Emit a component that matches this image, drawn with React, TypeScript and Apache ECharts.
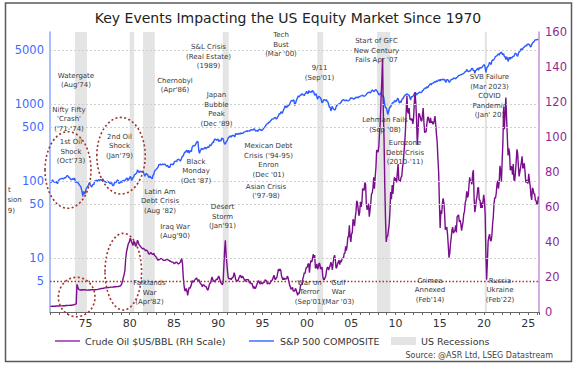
import React, { useEffect, useRef } from 'react';
import * as echarts from 'echarts';

const FONT = "'DejaVu Sans', Verdana, sans-serif";

// ---- data: monthly values starting January 1971 ----
const startYear = 1971;

const sp1970s = [
  95.9, 96.8, 100.3, 103.9, 99.6, 98.7, 95.6, 99.0, 98.3, 94.2, 94.0, 102.1,
  103.9, 106.6, 107.2, 107.7, 109.5, 107.1, 107.4, 111.1, 110.6, 111.6, 116.7, 118.1,
  116.0, 111.7, 111.5, 107.0, 105.0, 104.3, 108.2, 104.3, 108.4, 108.3, 96.0, 97.6,
  96.6, 96.2, 94.0, 90.3, 87.3, 86.0, 79.3, 72.2, 63.5, 73.9, 70.0, 68.6,
  77.0, 81.6, 83.4, 87.3, 91.2, 95.2, 88.8, 86.9, 83.9, 89.0, 91.2, 90.2,
  100.9, 99.7, 102.8, 101.6, 100.2, 104.3, 103.4, 102.9, 105.2, 102.9, 102.1, 107.5,
  102.0, 99.8, 98.4, 98.4, 96.1, 100.5, 98.9, 96.8, 96.5, 92.3, 94.8, 95.1,
  89.3, 87.0, 89.2, 96.8, 97.2, 95.5, 100.7, 103.3, 102.5, 93.2, 94.7, 96.1,
  99.9, 96.3, 101.6, 101.8, 99.1, 102.9, 103.8, 109.3, 109.3, 101.8, 106.2, 107.9,
];
const sp1980s = [
  114.2, 113.7, 102.1, 106.3, 111.2, 114.2, 121.7, 122.4, 125.5, 127.5, 140.5, 135.8,
  129.6, 131.3, 136.0, 132.8, 132.6, 131.2, 130.9, 122.8, 116.2, 121.9, 126.4, 122.6,
  120.4, 113.1, 112.0, 116.4, 111.9, 109.6, 107.1, 119.5, 120.4, 133.7, 138.5, 140.6,
  145.3, 148.1, 153.0, 164.4, 162.4, 168.1, 162.6, 164.4, 166.1, 163.6, 166.4, 164.9,
  163.4, 157.1, 159.2, 160.1, 150.6, 153.2, 150.7, 166.7, 166.1, 166.1, 163.6, 167.2,
  179.6, 181.2, 180.7, 179.8, 189.6, 191.9, 190.9, 188.6, 182.1, 189.8, 202.2, 211.3,
  211.8, 226.9, 238.9, 235.5, 247.4, 250.8, 236.1, 252.9, 231.3, 244.0, 249.2, 242.2,
  274.1, 284.2, 291.7, 288.4, 290.1, 304.0, 318.7, 329.8, 321.8, 251.8, 230.3, 247.1,
  257.1, 267.8, 258.9, 261.3, 262.2, 273.5, 272.0, 261.5, 271.9, 279.0, 273.7, 277.7,
  297.5, 288.9, 294.9, 309.6, 320.5, 318.0, 346.1, 351.5, 349.2, 340.4, 346.0, 353.4,
];
const sp1990s = [
  329.1, 331.9, 339.9, 330.8, 361.2, 358.0, 356.2, 322.6, 306.1, 304.0, 322.2, 330.2,
  343.9, 367.1, 375.2, 375.3, 389.8, 371.2, 387.8, 395.4, 387.9, 392.5, 375.2, 417.1,
  408.8, 412.7, 403.7, 415.0, 415.4, 408.1, 424.2, 414.0, 417.8, 418.7, 431.4, 435.7,
  438.8, 443.4, 451.7, 440.2, 450.2, 450.5, 448.1, 463.6, 458.9, 467.8, 461.8, 466.5,
  481.6, 467.1, 445.8, 450.9, 456.5, 444.3, 458.3, 475.5, 462.7, 472.4, 453.7, 459.3,
  470.4, 487.4, 500.7, 514.7, 533.4, 544.8, 562.1, 561.9, 584.4, 581.5, 605.4, 615.9,
  636.0, 640.4, 645.5, 654.2, 669.1, 670.6, 640.0, 652.0, 687.3, 705.3, 757.0, 740.7,
  786.2, 790.8, 757.1, 801.3, 848.3, 885.1, 954.3, 899.5, 947.3, 914.6, 955.4, 970.4,
  980.3, 1049.3, 1101.8, 1111.8, 1090.8, 1133.8, 1120.7, 957.3, 1017.0, 1098.7, 1163.6, 1229.2,
  1279.6, 1238.3, 1286.4, 1335.2, 1301.8, 1372.7, 1328.7, 1320.4, 1282.7, 1362.9, 1388.9, 1469.3,
];
const sp2000s = [
  1394.5, 1366.4, 1498.6, 1452.4, 1420.6, 1454.6, 1430.8, 1517.7, 1436.5, 1429.4, 1315.0, 1320.3,
  1366.0, 1239.9, 1160.3, 1249.5, 1255.8, 1224.4, 1211.2, 1133.6, 1040.9, 1059.8, 1139.5, 1148.1,
  1130.2, 1106.7, 1147.4, 1076.9, 1067.1, 989.8, 911.6, 916.1, 815.3, 885.8, 936.3, 879.8,
  855.7, 841.2, 848.2, 916.9, 963.6, 974.5, 990.3, 1008.0, 996.0, 1050.7, 1058.2, 1111.9,
  1131.1, 1144.9, 1126.2, 1107.3, 1120.7, 1140.8, 1101.7, 1104.2, 1114.6, 1130.2, 1173.8, 1211.9,
  1181.3, 1203.6, 1180.6, 1156.9, 1191.5, 1191.3, 1234.2, 1220.3, 1228.8, 1207.0, 1249.5, 1248.3,
  1280.1, 1280.7, 1294.9, 1310.6, 1270.1, 1270.2, 1276.7, 1303.8, 1335.9, 1377.9, 1400.6, 1418.3,
  1438.2, 1406.8, 1420.9, 1482.4, 1530.6, 1503.4, 1455.3, 1474.0, 1526.8, 1549.4, 1481.1, 1468.4,
  1378.6, 1330.6, 1322.7, 1385.6, 1400.4, 1280.0, 1267.4, 1282.8, 1166.4, 968.8, 896.2, 903.3,
  825.9, 735.1, 797.9, 872.8, 919.1, 919.3, 987.5, 1020.6, 1057.1, 1036.2, 1095.6, 1115.1,
];
const sp2010s = [
  1073.9, 1104.5, 1169.4, 1186.7, 1089.4, 1030.7, 1101.6, 1049.3, 1141.2, 1183.3, 1180.6, 1257.6,
  1286.1, 1327.2, 1325.8, 1363.6, 1345.2, 1320.6, 1292.3, 1218.9, 1131.4, 1253.3, 1247.0, 1257.6,
  1312.4, 1365.7, 1408.5, 1397.9, 1310.3, 1362.2, 1379.3, 1406.6, 1440.7, 1412.2, 1416.2, 1426.2,
  1498.1, 1514.7, 1569.2, 1597.6, 1630.7, 1606.3, 1685.7, 1633.0, 1681.6, 1756.5, 1805.8, 1848.4,
  1782.6, 1859.5, 1872.3, 1884.0, 1923.6, 1960.2, 1930.7, 2003.4, 1972.3, 2018.1, 2067.6, 2058.9,
  1995.0, 2104.5, 2067.9, 2085.5, 2107.4, 2063.1, 2103.8, 1972.2, 1920.0, 2079.4, 2080.4, 2043.9,
  1940.2, 1932.2, 2059.7, 2065.3, 2097.0, 2098.9, 2173.6, 2171.0, 2168.3, 2126.2, 2198.8, 2238.8,
  2278.9, 2363.6, 2362.7, 2384.2, 2411.8, 2423.4, 2470.3, 2471.7, 2519.4, 2575.3, 2647.6, 2673.6,
  2823.8, 2713.8, 2640.9, 2648.1, 2705.3, 2718.4, 2816.3, 2901.5, 2914.0, 2711.7, 2760.2, 2506.9,
  2704.1, 2784.5, 2834.4, 2945.8, 2752.1, 2941.8, 2980.4, 2926.5, 2976.7, 3037.6, 3141.0, 3230.8,
];
const sp2020s = [
  3225.5, 2954.2, 2584.6, 2912.4, 3044.3, 3100.3, 3271.1, 3500.3, 3363.0, 3270.0, 3621.6, 3756.1,
  3714.2, 3811.2, 3972.9, 4181.2, 4204.1, 4297.5, 4395.3, 4522.7, 4307.5, 4605.4, 4567.0, 4766.2,
  4515.6, 4373.9, 4530.4, 4131.9, 4132.2, 3785.4, 4130.3, 3955.0, 3585.6, 3872.0, 4080.1, 3839.5,
  4076.6, 3970.2, 4109.3, 4169.5, 4179.8, 4450.4, 4589.0, 4507.7, 4288.1, 4193.8, 4567.8, 4769.8,
  4845.7, 5096.3, 5254.4, 5035.7, 5277.5, 5460.5, 5522.3, 5648.4, 5762.5, 5705.5, 6032.4, 5881.6,
  6040.5, 5954.5, 5611.9, 5569.1, 5911.7, 6205.0, 6339.4, 6460.3, 6688.5, 6840.2, 6849.1, 6845.5,
  6939.0, 6880.0,
];

const oil1970s = [
  3.2, 3.2, 3.3, 3.3, 3.3, 3.3, 3.3, 3.3, 3.4, 3.4, 3.4, 3.4,
  3.4, 3.5, 3.5, 3.5, 3.5, 3.6, 3.6, 3.6, 3.6, 3.7, 3.7, 3.7,
  3.8, 3.8, 3.8, 3.9, 3.9, 3.9, 4.0, 4.0, 4.1, 4.3, 4.5, 4.6,
  15.8, 14.5, 13.2, 12.8, 12.6, 12.6, 12.7, 12.6, 12.6, 12.7, 12.8, 12.7,
  12.6, 12.5, 12.5, 12.6, 12.6, 12.6, 12.6, 12.7, 12.7, 12.7, 12.7, 12.7,
  12.7, 12.7, 12.8, 12.8, 12.9, 13.0, 13.1, 13.2, 13.3, 13.4, 13.4, 13.5,
  13.6, 13.7, 13.8, 13.8, 13.9, 13.9, 14.0, 14.0, 14.1, 14.1, 14.2, 14.2,
  14.2, 14.3, 14.3, 14.4, 14.4, 14.4, 14.5, 14.5, 14.6, 14.7, 14.8, 15.0,
  15.5, 16.5, 18.0, 20.0, 21.5, 24.0, 30.0, 34.0, 36.0, 38.0, 39.5, 40.0,
];
const oil1980s = [
  42.0, 41.5, 40.0, 39.0, 38.0, 40.5, 39.5, 38.0, 37.5, 39.0, 41.0, 40.0,
  38.5, 38.0, 37.5, 37.0, 36.5, 36.0, 36.5, 36.0, 35.5, 35.0, 35.5, 35.0,
  34.5, 33.5, 33.0, 33.5, 34.0, 33.5, 33.0, 33.0, 33.5, 32.5, 32.0, 31.5,
  31.0, 30.0, 29.5, 30.0, 30.0, 30.5, 30.5, 30.5, 30.0, 29.5, 29.5, 29.5,
  29.5, 30.0, 30.5, 30.0, 29.5, 29.5, 29.0, 29.0, 28.5, 28.5, 28.5, 28.0,
  27.5, 28.0, 28.5, 28.5, 28.0, 27.5, 27.5, 28.0, 28.5, 29.5, 30.5, 27.5,
  20.0, 15.5, 12.5, 12.0, 13.5, 12.0, 9.5, 12.0, 14.0, 13.5, 14.5, 15.5,
  18.0, 17.0, 17.5, 18.0, 18.5, 19.0, 19.5, 18.5, 18.0, 18.5, 17.5, 16.5,
  16.0, 15.5, 14.5, 15.5, 15.5, 15.0, 14.5, 14.5, 13.5, 12.5, 13.0, 15.0,
  16.5, 16.5, 18.5, 20.0, 18.5, 17.5, 18.0, 17.0, 18.0, 19.0, 18.5, 19.5,
];
const oil1990s = [
  20.5, 19.5, 18.0, 16.5, 16.5, 15.5, 17.0, 26.0, 35.0, 41.0, 33.0, 28.0,
  23.0, 19.5, 19.0, 19.0, 19.0, 18.5, 19.5, 19.5, 20.5, 22.5, 21.0, 18.5,
  18.0, 18.0, 17.5, 19.0, 20.0, 21.0, 20.5, 19.5, 20.5, 20.0, 19.0, 18.5,
  17.5, 18.5, 18.5, 18.5, 18.5, 17.5, 16.5, 17.0, 16.0, 16.5, 15.0, 13.5,
  14.5, 13.5, 13.5, 15.0, 16.0, 17.0, 18.0, 17.0, 16.0, 16.5, 17.0, 16.0,
  16.5, 17.0, 17.0, 18.5, 18.0, 17.5, 16.0, 16.5, 16.5, 16.0, 17.0, 18.0,
  18.0, 18.5, 20.0, 21.0, 19.0, 18.5, 19.5, 20.0, 22.5, 24.5, 23.5, 24.5,
  24.0, 21.0, 19.5, 18.5, 19.5, 18.5, 19.0, 19.0, 19.0, 20.5, 19.5, 17.5,
  15.5, 14.5, 13.0, 13.5, 14.0, 12.0, 12.0, 12.0, 13.5, 12.5, 11.0, 9.5,
  11.0, 10.5, 12.5, 15.5, 15.5, 16.0, 19.0, 20.5, 22.5, 22.0, 24.5, 25.5,
];
const oil2000s = [
  25.5, 27.5, 27.5, 22.5, 27.5, 29.5, 28.5, 30.0, 33.0, 31.0, 32.5, 25.0,
  25.5, 27.5, 24.5, 25.5, 28.0, 27.5, 24.5, 25.5, 25.5, 20.5, 18.5, 18.5,
  19.5, 20.5, 23.5, 25.5, 25.5, 24.0, 25.5, 26.5, 28.5, 27.0, 24.0, 28.0,
  31.0, 32.5, 30.0, 25.0, 25.5, 27.5, 28.5, 29.5, 27.0, 29.5, 28.5, 30.0,
  31.0, 30.5, 33.5, 33.5, 37.5, 35.0, 38.0, 43.0, 43.0, 49.5, 43.0, 40.0,
  44.5, 45.5, 53.0, 52.0, 49.0, 54.0, 57.5, 63.5, 62.5, 58.5, 55.0, 57.0,
  63.0, 60.0, 62.5, 70.5, 70.0, 69.5, 74.0, 73.0, 62.0, 58.5, 59.0, 62.0,
  54.5, 58.0, 62.0, 67.5, 68.0, 71.0, 77.0, 70.5, 77.0, 82.5, 92.5, 91.5,
  91.5, 95.0, 103.5, 109.0, 122.5, 132.5, 145.0, 114.0, 99.0, 72.0, 53.0, 40.0,
  43.0, 43.5, 47.0, 50.5, 57.5, 68.5, 64.5, 72.5, 67.5, 73.0, 77.0, 75.0,
];
const oil2010s = [
  76.5, 74.0, 79.5, 84.5, 75.5, 75.0, 74.5, 77.0, 77.5, 82.5, 85.5, 91.5,
  96.5, 104.0, 114.5, 123.5, 114.5, 113.5, 116.5, 110.0, 110.5, 109.5, 110.5, 107.5,
  110.5, 119.5, 125.5, 119.5, 110.5, 95.5, 102.5, 113.5, 113.0, 111.5, 109.5, 109.0,
  112.5, 116.5, 108.5, 102.5, 103.0, 103.0, 107.5, 111.0, 111.5, 109.0, 108.0, 111.0,
  108.0, 109.0, 107.5, 107.5, 109.5, 112.0, 107.0, 101.5, 97.0, 87.5, 79.5, 62.0,
  48.0, 58.0, 56.0, 61.5, 65.0, 62.5, 56.5, 47.0, 48.0, 48.5, 44.5, 38.0,
  31.0, 33.5, 39.0, 42.5, 47.0, 48.5, 45.0, 46.0, 46.5, 49.5, 45.5, 54.5,
  55.0, 55.5, 51.5, 52.5, 50.5, 46.5, 49.0, 51.5, 56.0, 57.5, 62.5, 64.0,
  69.0, 65.5, 66.5, 72.0, 77.0, 74.5, 74.5, 73.0, 79.0, 81.0, 65.0, 57.0,
  60.0, 64.0, 66.0, 71.0, 71.0, 64.0, 64.0, 59.5, 62.5, 59.5, 63.0, 67.0,
];
const oil2020s = [
  63.5, 55.5, 32.0, 18.5, 29.0, 40.5, 43.0, 44.5, 41.0, 40.5, 43.5, 50.0,
  54.5, 62.0, 65.5, 65.0, 68.0, 73.0, 75.0, 70.5, 74.5, 83.5, 80.5, 74.5,
  86.5, 97.0, 117.0, 104.5, 113.0, 122.5, 111.0, 100.0, 89.5, 93.5, 91.0, 81.0,
  83.0, 83.0, 78.5, 84.5, 75.5, 75.0, 80.0, 86.0, 93.0, 90.5, 83.0, 77.5,
  80.0, 83.0, 85.5, 89.0, 82.0, 83.0, 85.0, 80.0, 74.0, 75.5, 74.0, 73.5,
  79.0, 75.0, 72.0, 66.5, 64.0, 71.0, 70.0, 67.5, 67.5, 64.0, 63.5, 61.5,
  62.0, 66.0,
];

const recessionStarts = [1973.83, 1980.0, 1981.5, 1990.5, 2001.17, 2007.92, 2020.08];
const recessionEnds = [1975.17, 1980.5, 1982.83, 1991.17, 2001.83, 2009.42, 2020.33];

const leftTickValues = [5, 10, 50, 100, 500, 1000, 5000];
const leftGridValues = [10, 50, 100, 500, 1000, 5000];
const redLineValue = 5;

const seriesNames = ['Crude Oil $US/BBL (RH Scale)', 'S&P 500 COMPOSITE', 'US Recessions'];

// ---- annotation texts and their layout (pixels) ----
const annotations = [
  { lines: ['Watergate', "(Aug'74)"], x: 76, y: 71 },
  { lines: ['Nifty Fifty', "'Crash'", "('71-'74)"], x: 69, y: 105 },
  { lines: ['1st Oil', 'Shock', "(Oct'73)"], x: 71, y: 137.5 },
  { lines: ['2nd Oil', 'Shock', "(Jan'79)"], x: 119.5, y: 132 },
  { lines: ['Chernobyl', "(Apr'86)"], x: 175, y: 76 },
  { lines: ['S&L Crisis', '(Real Estate)', '(1989)'], x: 208.5, y: 42.5 },
  { lines: ['Black', 'Monday', "(Oct '87)"], x: 196, y: 157 },
  { lines: ['Japan', 'Bubble', 'Peak', "(Dec '89)"], x: 216.5, y: 90.3 },
  { lines: ['Tech', 'Bust', "(Mar '00)"], x: 281, y: 30.3 },
  { lines: ['9/11', "(Sep'01)"], x: 319.5, y: 63.5 },
  { lines: ['Mexican Debt', "Crisis ('94-95)", 'Enron', "(Dec '01)"], x: 268.5, y: 141.3 },
  { lines: ['Asian Crisis', "('97-98)"], x: 266, y: 182 },
  { lines: ['Desert', 'Storm', "(Jan'91)"], x: 222.5, y: 202.5 },
  { lines: ['Iraq War', "(Aug'90)"], x: 175, y: 222 },
  { lines: ['Latin Am', 'Debt Crisis', "(Aug '82)"], x: 160, y: 187 },
  { lines: ['Falklands', 'War', "(Apr'82)"], x: 149.5, y: 278.5 },
  { lines: ['War on', 'Terror', "(Sep'01)"], x: 309.5, y: 278 },
  { lines: ['Gulf', 'War', "(Mar '03)"], x: 338.5, y: 278 },
  { lines: ['Start of GFC', 'New Century', "Fails Apr '07"], x: 376.5, y: 36.3 },
  { lines: ['Lehman Fails', "(Sep '08)"], x: 385, y: 115.3 },
  { lines: ['Eurozone', 'Debt Crisis', "(2010-'11)"], x: 405, y: 138.5 },
  { lines: ['SVB Failure', '(Mar 2023)', 'COVID', 'Pandemic', "(Jan' 20)"], x: 489.5, y: 72.5 },
  { lines: ['Crimea', 'Annexed', "(Feb'14)"], x: 430, y: 276 },
  { lines: ['Russia', 'Ukraine', "(Feb'22)"], x: 500, y: 276 },
];
// fragments of a note that the reference shows cut by its frame (right-aligned)
const cutNote = [
  { text: 't', x: 10.7, y: 190 },
  { text: 'sion', x: 21.7, y: 200 },
  { text: '9)', x: 15, y: 210.7 },
];

const ellipses = [
  { cx: 68, cy: 170, rx: 23, ry: 38.3 },
  { cx: 121, cy: 155.7, rx: 24.2, ry: 38.3 },
  { cx: 76.7, cy: 297, rx: 18.3, ry: 19.7 },
  { cx: 123.3, cy: 271.7, rx: 18.3, ry: 38.3 },
];

function toSeries(values: number[], transform?: (v: number) => number) {
  return values.map((v, i) => [startYear + (i + 0.5) / 12, transform ? transform(v) : v]);
}

export default function App() {
  const ref = useRef<HTMLDivElement>(null);

  useEffect(() => {
    document.body.style.margin = '0';
    if (!ref.current) return;
    const chart = echarts.init(ref.current, undefined, { renderer: 'svg' });

    const spValues = [...sp1970s, ...sp1980s, ...sp1990s, ...sp2000s, ...sp2010s, ...sp2020s];
    const oilValues = [...oil1970s, ...oil1980s, ...oil1990s, ...oil2000s, ...oil2010s, ...oil2020s];

    const textEl = (t: string, x: number, y: number, extra: any) => ({
      type: 'text',
      x: 0,
      y: 0,
      z: 50,
      silent: true,
      style: {
        text: t,
        x,
        y,
        fontFamily: FONT,
        ...extra,
      },
    });
    const mid = (align: string) => ({
      align,
      textAlign: align,
      verticalAlign: 'middle',
      textVerticalAlign: 'middle',
    });

    const graphics: any[] = [];
    annotations.forEach((a) => {
      graphics.push(
        textEl(a.lines.join('\n'), a.x, a.y, {
          fontSize: 7,
          lineHeight: 9.5,
          fill: '#3a3a3a',
          align: 'center',
          textAlign: 'center',
          verticalAlign: 'top',
          textVerticalAlign: 'top',
        })
      );
    });
    cutNote.forEach((c) => {
      graphics.push(textEl(c.text, c.x, c.y, { fontSize: 7, fill: '#3a3a3a', ...mid('right') }));
    });
    ellipses.forEach((e) => {
      graphics.push({
        type: 'ellipse',
        z: 50,
        silent: true,
        shape: { cx: e.cx, cy: e.cy, rx: e.rx, ry: e.ry },
        style: { fill: 'none', stroke: '#a1302b', lineWidth: 1.6, lineDash: [2, 2.4] },
      });
    });
    graphics.push(
      textEl('Key Events Impacting the US Equity Market Since 1970', 288, 18, {
        fontSize: 14,
        fill: '#222',
        ...mid('center'),
      })
    );
    graphics.push(
      textEl('Source: @ASR Ltd, LSEG Datastream', 553, 355, {
        fontSize: 8,
        fill: '#444',
        ...mid('right'),
      })
    );

    // legend (drawn by hand so the line keys carry no symbol)
    const legendY = 341;
    graphics.push({
      type: 'line',
      z: 50,
      silent: true,
      shape: { x1: 55, y1: legendY, x2: 80, y2: legendY },
      style: { stroke: '#9a3db0', lineWidth: 1.6 },
    });
    graphics.push(textEl(seriesNames[0], 85, legendY, { fontSize: 9.5, fill: '#333', ...mid('left') }));
    graphics.push({
      type: 'line',
      z: 50,
      silent: true,
      shape: { x1: 249, y1: legendY, x2: 274, y2: legendY },
      style: { stroke: '#4a78ff', lineWidth: 1.6 },
    });
    graphics.push(textEl(seriesNames[1], 280, legendY, { fontSize: 9.5, fill: '#333', ...mid('left') }));
    graphics.push({
      type: 'rect',
      z: 50,
      silent: true,
      shape: { x: 391, y: legendY - 4, width: 25, height: 8 },
      style: { fill: '#e3e3e3' },
    });
    graphics.push(textEl(seriesNames[2], 421, legendY, { fontSize: 9.5, fill: '#333', ...mid('left') }));

    graphics.push({
      type: 'rect',
      z: 100,
      silent: true,
      shape: { x: 5.5, y: 3, width: 566, height: 358.5 },
      style: { fill: 'none', stroke: '#5a5a5a', lineWidth: 1.5 },
    });

    const option: any = {
      animation: false,
      backgroundColor: '#ffffff',
      grid: { left: 50, right: 37, top: 32, bottom: 53, containLabel: false },
      xAxis: {
        type: 'value',
        min: 1971,
        max: 2026.2,
        interval: 1,
        axisLine: { show: true, lineStyle: { color: '#666', width: 1 } },
        axisTick: { show: true, length: 3, lineStyle: { color: '#666' } },
        splitLine: { show: false },
        axisLabel: {
          color: '#333',
          fontSize: 11,
          fontFamily: FONT,
          margin: 6,
          showMinLabel: true,
          showMaxLabel: true,
          hideOverlap: false,
          formatter: (v: number) => {
            const y = Math.round(v);
            if (Math.abs(v - y) > 1e-6 || y % 5 !== 0) return '';
            return String(y % 100).padStart(2, '0');
          },
        },
      },
      yAxis: [
        {
          type: 'value',
          position: 'left',
          min: Math.log10(2),
          max: Math.log10(8650),
          axisLine: { show: true, lineStyle: { color: '#8aa9ff', width: 1.5 } },
          axisTick: { show: false },
          splitLine: { show: false },
          axisLabel: {
            customValues: leftTickValues.map((v) => Math.log10(v)),
            formatter: (v: number) => String(Math.round(Math.pow(10, v))),
            color: '#3d6bff',
            fontSize: 11.5,
            fontFamily: FONT,
            margin: 6,
          },
        },
        {
          type: 'value',
          position: 'right',
          min: 0,
          max: 160,
          interval: 20,
          axisLine: { show: true, lineStyle: { color: '#c690d8', width: 1.5 } },
          axisTick: { show: false },
          splitLine: { show: false },
          axisLabel: { color: '#8e2a92', fontSize: 11.5, fontFamily: FONT, margin: 6 },
        },
      ],
      series: [
        {
          name: seriesNames[2],
          type: 'line',
          yAxisIndex: 0,
          data: [],
          z: 1,
          markArea: {
            silent: true,
            itemStyle: { color: '#e4e4e4' },
            data: recessionStarts.map((s, i) => [{ xAxis: s }, { xAxis: recessionEnds[i] }]),
          },
        },
        {
          name: 'grid',
          type: 'line',
          yAxisIndex: 0,
          data: [],
          z: 2,
          markLine: {
            silent: true,
            symbol: ['none', 'none'],
            label: { show: false },
            lineStyle: { color: '#cfcfcf', type: [2, 2], width: 1 },
            data: [
              ...leftGridValues.map((v) => ({ yAxis: Math.log10(v) })),
              {
                yAxis: Math.log10(redLineValue),
                lineStyle: { color: '#a5342c', type: [1.5, 2], width: 1.4 },
              },
            ],
          },
        },
        {
          name: seriesNames[1],
          type: 'line',
          yAxisIndex: 0,
          symbol: 'none',
          showSymbol: false,
          z: 3,
          lineStyle: { color: '#2d5bff', width: 1.4 },
          data: toSeries(spValues, Math.log10),
        },
        {
          name: seriesNames[0],
          type: 'line',
          yAxisIndex: 1,
          symbol: 'none',
          showSymbol: false,
          z: 4,
          lineStyle: { color: '#7a0e8c', width: 1.4 },
          data: toSeries(oilValues),
        },
      ],
      graphic: { elements: graphics },
    };

    chart.setOption(option);
    return () => {
      chart.dispose();
    };
  }, []);

  return <div ref={ref} style={{ width: 576, height: 365 }} />;
}
